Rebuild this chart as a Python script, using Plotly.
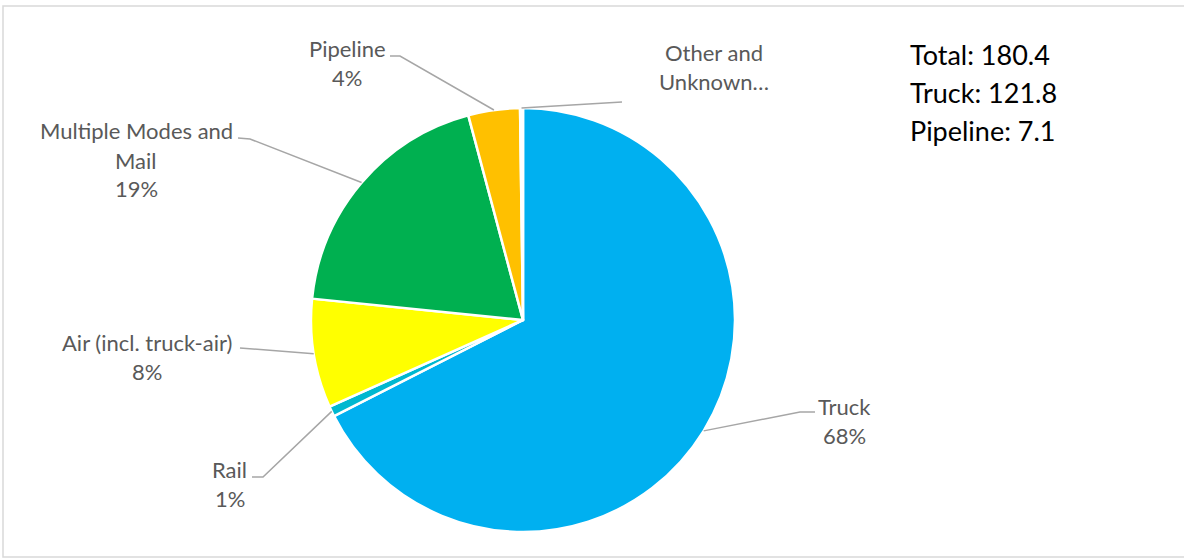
import math
import plotly.graph_objects as go

# ---- data ----
categories = ["Truck", "Rail", "Air (incl. truck-air)", "Multiple Modes and Mail", "Pipeline", "Other and Unknown"]
values = [121.8, 1.4, 15.0, 34.7, 7.1, 0.4]
colors = ["#00B0F0", "#00B8D0", "#FFFF00", "#00B050", "#FFC000", "#FFFFFF"]
label_lines = {
    "Truck": ["Truck"],
    "Rail": ["Rail"],
    "Air (incl. truck-air)": ["Air (incl. truck-air)"],
    "Multiple Modes and Mail": ["Multiple Modes and", "Mail"],
    "Pipeline": ["Pipeline"],
    "Other and Unknown": ["Other and", "Unknown…"],
}
show_pct = {"Other and Unknown": False}
summary_items = ["Truck", "Pipeline"]

# ---- layout constants (pixels) ----
W, H = 1184, 558
CX, CY, R = 523, 320, 212
LINE_H = 29
FONT = "Lato"
LABEL_SIZE = 22
GRAY_TXT = "#595959"
LEADER = "#A6A6A6"

# label text centre (x, y of first line) and leader route (elbow, end)
label_pos = {
    "Truck": (844, 406),
    "Rail": (230, 469),
    "Air (incl. truck-air)": (147, 342),
    "Multiple Modes and Mail": (136, 131),
    "Pipeline": (347, 48),
    "Other and Unknown": (714, 53),
}
leader_route = {
    "Truck": [(800, 412), (815, 412)],
    "Rail": [(263, 477), (252, 477)],
    "Air (incl. truck-air)": [(240, 348)],
    "Multiple Modes and Mail": [(250, 139), (238, 138)],
    "Pipeline": [(400, 56), (390, 56)],
    "Other and Unknown": [(622, 102)],
}


def px(x):
    return x / W


def py(y):
    return 1 - y / H


fig = go.Figure()
fig.add_trace(go.Pie(
    labels=categories,
    values=values,
    sort=False,
    direction="clockwise",
    rotation=0,
    textinfo="none",
    hoverinfo="label+value+percent",
    marker=dict(colors=colors, line=dict(color="white", width=2.5)),
    domain=dict(x=[px(CX - R), px(CX + R)], y=[py(CY + R), py(CY - R)]),
    showlegend=False,
))

total = sum(values)
annotations = []
shapes = []
cum = 0.0
for cat, v in zip(categories, values):
    theta = 2 * math.pi * (cum + v / 2) / total
    cum += v
    ax_ = CX + R * math.sin(theta)
    ay_ = CY - R * math.cos(theta)
    pts = [(ax_, ay_)] + leader_route[cat]
    path = "M " + " L ".join(f"{px(x):.5f},{py(y):.5f}" for x, y in pts)
    shapes.append(dict(type="path", path=path, xref="paper", yref="paper",
                       line=dict(color=LEADER, width=1.5)))
    lines = list(label_lines[cat])
    if show_pct.get(cat, True):
        lines.append(f"{round(v / total * 100):.0f}%")
    lx, ly = label_pos[cat]
    for i, t in enumerate(lines):
        annotations.append(dict(
            x=px(lx), y=py(ly + i * LINE_H), xref="paper", yref="paper",
            text=t, showarrow=False, xanchor="center", yanchor="middle",
            font=dict(family=FONT, size=LABEL_SIZE, color=GRAY_TXT),
        ))

summary = [f"Total: {total:.1f}"] + [f"{c}: {values[categories.index(c)]:.1f}" for c in summary_items]
for i, t in enumerate(summary):
    annotations.append(dict(
        x=px(908), y=py(55 + i * 38), xref="paper", yref="paper",
        text=t, showarrow=False, xanchor="left", yanchor="middle",
        font=dict(family=FONT, size=27, color="#000000"),
    ))

# chart border
shapes.append(dict(type="rect", xref="paper", yref="paper",
                   x0=px(3), x1=px(1190), y0=py(557), y1=py(6),
                   line=dict(color="#D9D9D9", width=1.5)))

fig.update_layout(
    width=W, height=H,
    margin=dict(l=0, r=0, t=0, b=0),
    paper_bgcolor="white",
    plot_bgcolor="white",
    annotations=annotations,
    shapes=shapes,
)

fig.write_html(
    "out.html",
    config={"displayModeBar": False},
    post_script="document.body.style.margin='0';document.body.style.overflow='hidden';",
)
